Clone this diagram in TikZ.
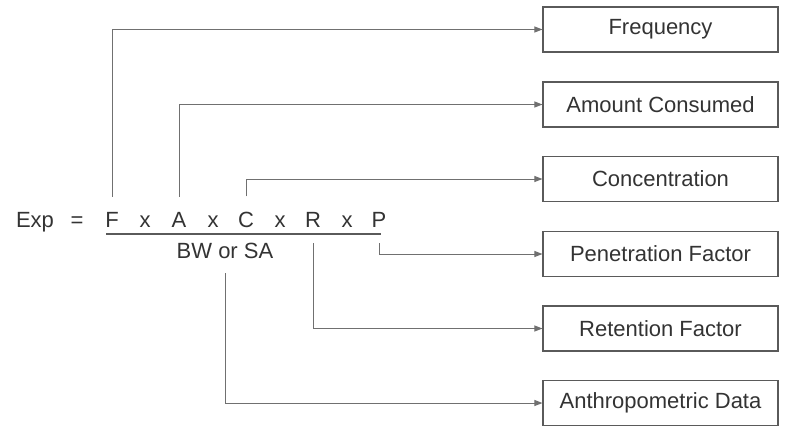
\documentclass[tikz,border=0pt]{standalone}
\usepackage{fontspec}
\setmainfont{Liberation Sans}
\usetikzlibrary{arrows.meta}
\definecolor{linegray}{RGB}{112,112,112}
\definecolor{boxgray}{RGB}{90,90,90}
\definecolor{txtgray}{RGB}{51,51,51}
\begin{document}
\begin{tikzpicture}[x=1pt,y=-1pt,font=\fontsize{22}{26}\selectfont,
	box/.style={draw=boxgray,line width=1.1pt,minimum width=235pt,minimum height=45pt,text=txtgray},
	sym/.style={anchor=base,inner sep=0pt,text=txtgray},
	conn/.style={draw=linegray,line width=1pt,-{Triangle[length=8pt,width=6pt]}}]
	
	\useasboundingbox (0,0) rectangle (789,428);
	% boxes on the right
	\node[box] (freq) at (660.5,29.5) {Frequency};
	\node[box] (amount) at (660.5,104.5) {Amount Consumed};
	\node[box] (conc) at (660.5,179) {Concentration};
	\node[box] (pen) at (660.5,254) {Penetration Factor};
	\node[box] (ret) at (660.5,328.5) {Retention Factor};
	\node[box] (anthro) at (660.5,403) {Anthropometric Data};
	% formula
	\node[sym] (exp) at (35,227) {Exp};
	\node[sym] (eq) at (77,227) {=};
	\foreach \nm/\xx in {F/112,A/179,C/246,R/313,P/379}
		\node[sym] (\nm) at (\xx,227) {\nm};
	\foreach \xx in {145,213,280,347}
		\node[sym] (times\xx) at (\xx,227) {x};
	\draw[boxgray,line width=1.6pt] (106,234)--(381,234);
	\node[sym] (bw) at (225,258) {BW or SA};
	% connectors
	\draw[conn] ([yshift=15pt]F.north) |- (freq.west);
	\draw[conn] ([yshift=15pt]A.north) |- (amount.west);
	\draw[conn] ([yshift=15pt]C.north) |- (conc.west);
	\draw[conn] ([yshift=-16pt]P.south) |- (pen.west);
	\draw[conn] ([yshift=-16pt]R.south) |- (ret.west);
	\draw[conn] ([yshift=-15pt]bw.south) |- (anthro.west);
	
\end{tikzpicture}
\end{document}
